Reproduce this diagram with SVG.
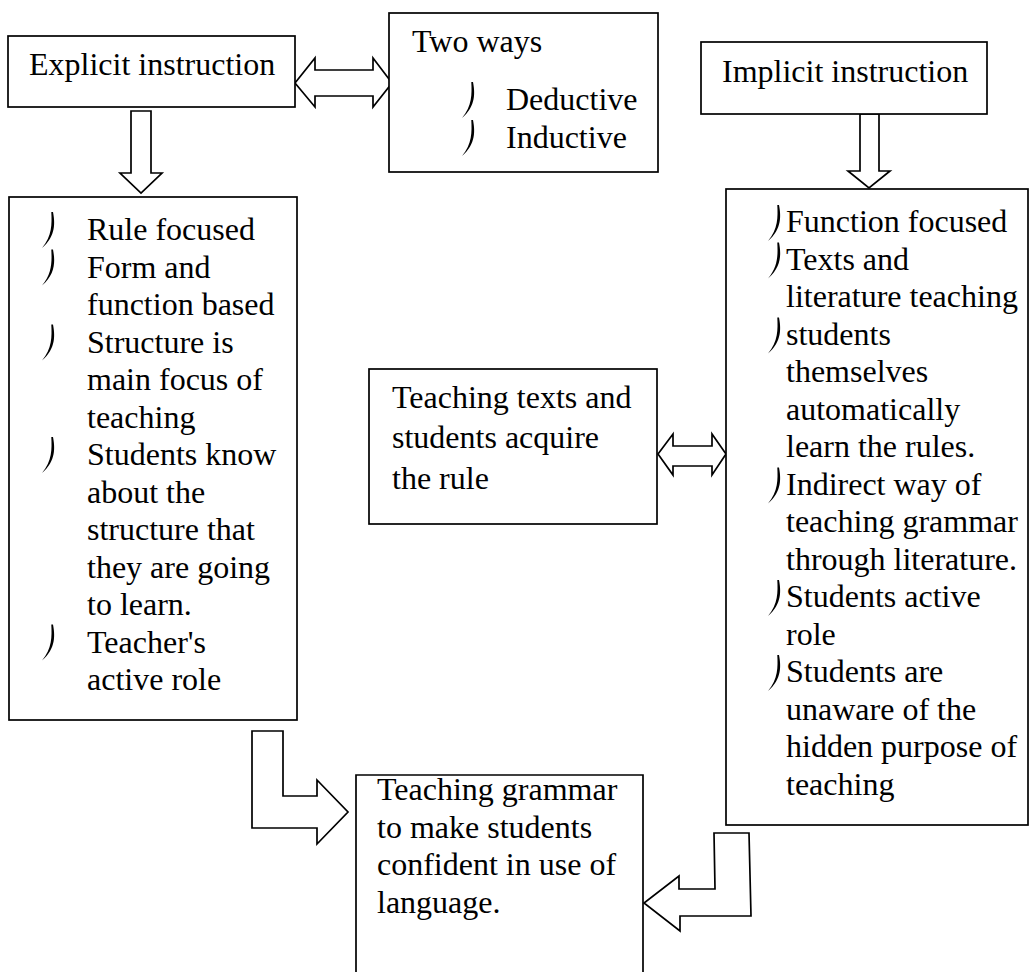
<svg xmlns="http://www.w3.org/2000/svg" xmlns:xlink="http://www.w3.org/1999/xlink" width="1030" height="972" viewBox="0 0 1030 972">
<style>
.box{fill:#fff;stroke:#000;stroke-width:1.7}
.arr{fill:#fff;stroke:#000;stroke-width:1.7;stroke-linejoin:miter}
text{font-family:"Liberation Serif","Times New Roman",serif;font-size:32px;fill:#000}
.bul{fill:#000}
</style>
<defs>
<path id="b" class="bul" d="M0,0 C1.9,10 3.3,24 -11,36 C-0.8,24 -1.1,12 -1.7,0 Z"/>
</defs>
<rect width="1030" height="972" fill="#fff"/>
<g id="connectors">
<path class="arr" d="M295,83 L315,58 L315,70 L373,70 L373,58 L392,83 L373,107 L373,96 L315,96 L315,107 Z"/>
<path class="arr" d="M131,111 L151,111 L151,173 L162,173 L141,193 L120,173 L131,173 Z"/>
<path class="arr" d="M860,114 L879,114 L879,171 L890,171 L869,188 L848,171 L860,171 Z"/>
<path class="arr" d="M658,454 L673,434 L673,446 L712,446 L712,434 L726,454 L712,475 L712,466 L673,466 L673,475 Z"/>
<path class="arr" d="M252,731 L283,731 L283,796 L317,796 L317,780 L348,812 L317,844 L317,828 L252,828 Z"/>
<path class="arr" d="M714,833 L749,833 L751,916 L680,916 L680,931 L644,903 L679,876 L679,889 L715,889 Z"/>
</g>
<g id="explicit">
<rect class="box" x="8" y="36" width="287" height="71"/>
<text x="29" y="75">Explicit instruction</text>
</g>
<g id="twoways">
<rect class="box" x="389" y="13" width="269" height="159"/>
<text x="412" y="52">Two ways</text>
<use xlink:href="#b" href="#b" x="473" y="82"/>
<text x="506" y="110">Deductive</text>
<use xlink:href="#b" href="#b" x="473" y="120"/>
<text x="506" y="148">Inductive</text>
</g>
<g id="implicit">
<rect class="box" x="701" y="42" width="286" height="72"/>
<text x="722" y="82">Implicit instruction</text>
</g>
<g id="explicit-list">
<rect class="box" x="9" y="197" width="288" height="523"/>
<use xlink:href="#b" href="#b" x="53" y="212"/>
<use xlink:href="#b" href="#b" x="53" y="249.5"/>
<use xlink:href="#b" href="#b" x="53" y="324.5"/>
<use xlink:href="#b" href="#b" x="53" y="437"/>
<use xlink:href="#b" href="#b" x="53" y="624.5"/>
<text x="87" y="240">Rule focused</text>
<text x="87" y="277.5">Form and</text>
<text x="87" y="315">function based</text>
<text x="87" y="352.5">Structure is</text>
<text x="87" y="390">main focus of</text>
<text x="87" y="427.5">teaching</text>
<text x="87" y="465">Students know</text>
<text x="87" y="502.5">about the</text>
<text x="87" y="540">structure that</text>
<text x="87" y="577.5">they are going</text>
<text x="87" y="615">to learn.</text>
<text x="87" y="652.5">Teacher's</text>
<text x="87" y="690">active role</text>
</g>
<g id="implicit-list">
<rect class="box" x="726" y="189" width="302" height="636"/>
<use xlink:href="#b" href="#b" x="779" y="205"/>
<use xlink:href="#b" href="#b" x="779" y="242.5"/>
<use xlink:href="#b" href="#b" x="779" y="317.5"/>
<use xlink:href="#b" href="#b" x="779" y="467.5"/>
<use xlink:href="#b" href="#b" x="779" y="580"/>
<use xlink:href="#b" href="#b" x="779" y="655"/>
<text x="786" y="232">Function focused</text>
<text x="786" y="269.5">Texts and</text>
<text x="786" y="307">literature teaching</text>
<text x="786" y="344.5">students</text>
<text x="786" y="382">themselves</text>
<text x="786" y="419.5">automatically</text>
<text x="786" y="457">learn the rules.</text>
<text x="786" y="494.5">Indirect way of</text>
<text x="786" y="532">teaching grammar</text>
<text x="786" y="569.5">through literature.</text>
<text x="786" y="607">Students active</text>
<text x="786" y="644.5">role</text>
<text x="786" y="682">Students are</text>
<text x="786" y="719.5">unaware of the</text>
<text x="786" y="757">hidden purpose of</text>
<text x="786" y="794.5">teaching</text>
</g>
<g id="teaching-texts">
<rect class="box" x="369" y="369" width="288" height="155"/>
<text x="392" y="408">Teaching texts and</text>
<text x="392" y="448">students acquire</text>
<text x="392" y="489">the rule</text>
</g>
<g id="goal">
<path class="box" d="M356,976 L356,775 L643,775 L643,976"/>
<text x="377" y="800">Teaching grammar</text>
<text x="377" y="837.5">to make students</text>
<text x="377" y="875">confident in use of</text>
<text x="377" y="912.5">language.</text>
</g>
</svg>
